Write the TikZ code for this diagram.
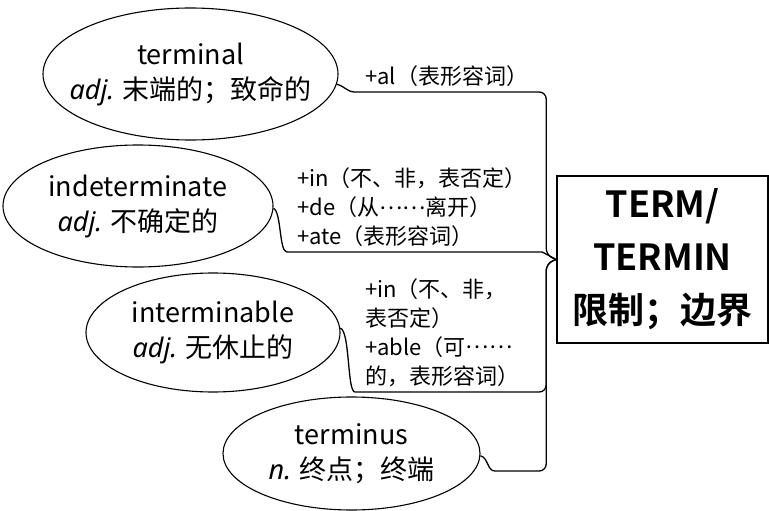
\documentclass[tikz,border=0pt]{standalone}
\usepackage{fontspec}
\setmainfont{Noto Sans CJK SC}[BoldFont={Noto Sans CJK SC Bold}]
\newfontfamily\wordfont{Noto Sans}
\newcommand{\wordclass}[1]{{\wordfont\itshape #1}}
\newcommand{\middots}{\raisebox{.3em}{……}}
\usepackage{tikz}
\usetikzlibrary{shapes.geometric,calc}

\begin{document}
\begin{tikzpicture}[
  x=1pt, y=-1pt,
  bubble/.style={draw, ellipse, line width=1.1pt, inner sep=0pt},
  word/.style={align=center, font=\fontsize{27}{35}\selectfont},
  affix/.style={anchor=south west, align=left, inner xsep=10pt, inner ysep=5pt,
                font=\fontsize{22}{29}\selectfont},
  rootbox/.style={draw, line width=1.6pt, align=center, inner sep=0pt,
                  font=\bfseries\fontsize{36}{53}\selectfont},
  link/.style={line width=1.3pt},
]
\useasboundingbox (0,0) rectangle (769,511);

% ---------------- root ----------------
\node[rootbox, minimum width=211pt, minimum height=167pt] (root) at (662.5,259.5)
  {TERM/\\TERMIN\\限制；边界};
\coordinate (bus) at ($(root.west)+(-10,0)$);

% ---------------- derived words ----------------
\node[bubble, minimum width=295pt, minimum height=132pt,
      label={[word]center:terminal\\\wordclass{adj.} 末端的；致命的}] (e1) at (190.5,74) {};
\node[bubble, minimum width=270pt, minimum height=122pt,
      label={[word]center:indeterminate\\\wordclass{adj.} 不确定的}] (e2) at (138,206) {};
\node[bubble, minimum width=254pt, minimum height=119pt,
      label={[word]center:interminable\\\wordclass{adj.} 无休止的}] (e3) at (213,332.5) {};
\node[bubble, minimum width=257pt, minimum height=113pt,
      label={[word]center:terminus\\\wordclass{n.} 终点；终端}] (e4) at (351.5,453.5) {};

% ---------------- affixes ----------------
\node[affix] (lab1) at (355,92) {+al（表形容词）};
\node[affix] (lab2) at (287,252) {+in（不、非，表否定）\\+de（从\middots 离开）\\+ate（表形容词）};
\node[affix] (lab3) at (355,392) {+in（不、非，\\表否定）\\+able（可\middots\\的，表形容词）};
\coordinate (u4) at (495,471);

% ---------------- connectors ----------------
\draw[link] (e1.-4) .. controls +(8,2) and +(-8,0) .. (lab1.south west)
  [rounded corners=7pt] -- (lab1.south west -| bus) -- ($(bus)+(0,-4)$) -- (root.west);
\draw[link] (e2.-1) .. controls +(8,3) and +(-8,0) .. (lab2.south west)
  -- ($(lab2.south west -| bus)+(-4,0)$) -- (root.west);
\draw[link] (e3.2) .. controls +(10,3) and +(-8,0) .. (lab3.south west)
  [rounded corners=7pt] -- (lab3.south west -| bus) -- ($(bus)+(0,4)$) -- (root.west);
\draw[link] (e4.-1) .. controls +(8,2) and +(-8,0) .. (u4)
  [rounded corners=7pt] -- (u4 -| bus) -- ($(bus)+(0,4)$) -- (root.west);
\end{tikzpicture}
\end{document}
